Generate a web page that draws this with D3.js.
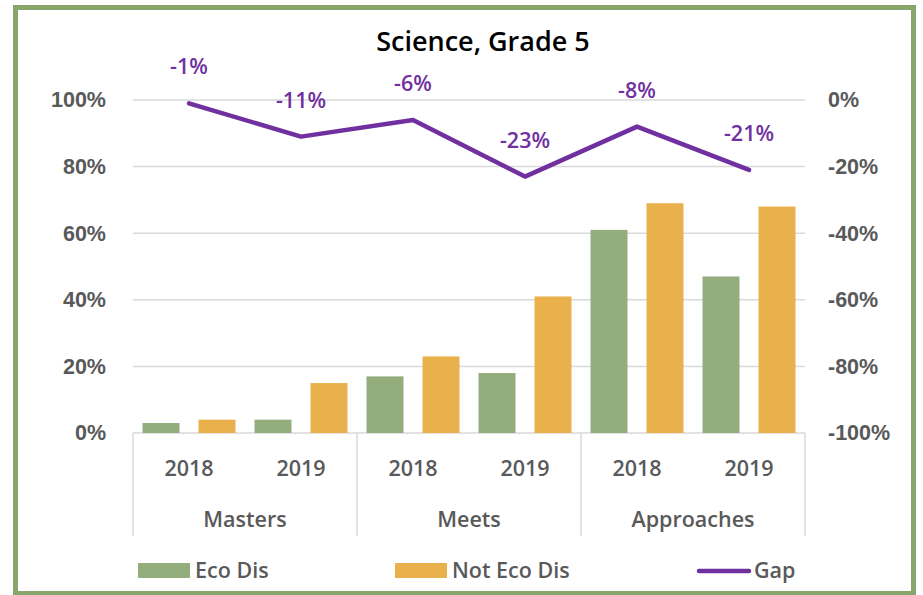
<!DOCTYPE html>
<html>
<head>
<meta charset="utf-8">
<script src="https://cdn.jsdelivr.net/npm/d3@7"></script>
<style>
  html, body { margin: 0; padding: 0; background: #fff; }
  svg { display: block; font-family: "Open Sans", "Noto Sans", sans-serif; }
</style>
</head>
<body>
<svg id="chart" width="923" height="595"></svg>
<script>
// Performance levels and years on the two-level category axis
const levels = ["Masters", "Meets", "Approaches"];
const years = ["2018", "2019"];

// Percent of students at each level, in level/year order
const ecoDis    = [3, 4, 17, 18, 61, 47];
const notEcoDis = [4, 15, 23, 41, 69, 68];
const gap       = [-1, -11, -6, -23, -8, -21];

const leftTicks  = [0, 20, 40, 60, 80, 100];
const rightTicks = [-100, -80, -60, -40, -20, 0];

const seriesNames = ["Eco Dis", "Not Eco Dis"];
const colors = { "Eco Dis": "#93ae7c", "Not Eco Dis": "#e9b04b", "Gap": "#7030a0" };

const svg = d3.select("#chart");

// Outer frame
svg.append("rect")
  .attr("x", 15.5).attr("y", 7.5).attr("width", 898).attr("height", 586)
  .attr("fill", "#fff").attr("stroke", "#88a56c").attr("stroke-width", 5);

const plot = { left: 133, right: 805, top: 100, bottom: 433 };

// Category keys: one per level/year pair
const cats = [];
levels.forEach(l => years.forEach(y => cats.push(l + "|" + y)));

const x = d3.scaleBand().domain(cats).range([plot.left, plot.right]).padding(0);
const xInner = d3.scaleBand().domain(seriesNames).range([0, x.bandwidth()])
  .paddingInner(0.34).paddingOuter(0.17);
const xLevel = d3.scaleBand().domain(levels).range([plot.left, plot.right]).padding(0);

const yLeft = d3.scaleLinear().domain([0, 100]).range([plot.bottom, plot.top]);
const yRight = d3.scaleLinear().domain([-100, 0]).range([plot.bottom, plot.top]);

// Gridlines
svg.append("g")
  .selectAll("line").data(leftTicks).join("line")
  .attr("x1", plot.left).attr("x2", plot.right)
  .attr("y1", d => yLeft(d)).attr("y2", d => yLeft(d))
  .attr("stroke", "#d9d9d9").attr("stroke-width", 1.5);

const axisText = { fill: "#595959", size: "21.5px", weight: 600 };
const styleText = sel => sel
  .attr("fill", axisText.fill).style("font-size", axisText.size).style("font-weight", axisText.weight);

// Left axis
const leftAxis = svg.append("g").attr("transform", `translate(${plot.left},0)`)
  .call(d3.axisLeft(yLeft).tickValues(leftTicks).tickFormat(d => d + "%").tickSize(0).tickPadding(27));
leftAxis.select(".domain").remove();
leftAxis.selectAll("text").call(styleText);

// Right axis
const rightAxis = svg.append("g").attr("transform", `translate(${plot.right},0)`)
  .call(d3.axisRight(yRight).tickValues(rightTicks).tickFormat(d => d + "%").tickSize(0).tickPadding(23));
rightAxis.select(".domain").remove();
rightAxis.selectAll("text").call(styleText);

// Bars
const barData = [];
cats.forEach((c, i) => {
  barData.push({ cat: c, series: "Eco Dis", value: ecoDis[i] });
  barData.push({ cat: c, series: "Not Eco Dis", value: notEcoDis[i] });
});
svg.append("g").selectAll("rect").data(barData).join("rect")
  .attr("x", d => x(d.cat) + xInner(d.series))
  .attr("width", xInner.bandwidth())
  .attr("y", d => yLeft(d.value))
  .attr("height", d => yLeft(0) - yLeft(d.value))
  .attr("fill", d => colors[d.series]);

// Category axis: separators between levels
const axisBottom = 536;
svg.append("g").selectAll("line").data([...levels.map(l => xLevel(l)), plot.right]).join("line")
  .attr("x1", d => d).attr("x2", d => d)
  .attr("y1", plot.bottom).attr("y2", axisBottom)
  .attr("stroke", "#d9d9d9").attr("stroke-width", 1.5);

// Year labels
svg.append("g").selectAll("text").data(cats).join("text")
  .attr("x", d => x(d) + x.bandwidth() / 2)
  .attr("y", 476)
  .attr("text-anchor", "middle")
  .call(styleText)
  .text(d => d.split("|")[1]);

// Level labels
svg.append("g").selectAll("text").data(levels).join("text")
  .attr("x", d => xLevel(d) + xLevel.bandwidth() / 2)
  .attr("y", 527)
  .attr("text-anchor", "middle")
  .call(styleText)
  .text(d => d);

// Gap line on the secondary axis
const gapPts = cats.map((c, i) => ({ x: x(c) + x.bandwidth() / 2, v: gap[i] }));
svg.append("path")
  .datum(gapPts)
  .attr("d", d3.line().x(d => d.x).y(d => yRight(d.v)))
  .attr("fill", "none").attr("stroke", colors.Gap).attr("stroke-width", 4.5)
  .attr("stroke-linecap", "round").attr("stroke-linejoin", "round");

// Gap value labels
svg.append("g").selectAll("text").data(gapPts).join("text")
  .attr("x", d => d.x)
  .attr("y", d => yRight(d.v) - 29)
  .attr("text-anchor", "middle")
  .attr("fill", colors.Gap).style("font-size", "21.5px").style("font-weight", 600)
  .text(d => d.v + "%");

// Title
svg.append("text")
  .attr("x", 483).attr("y", 51)
  .attr("text-anchor", "middle")
  .attr("fill", "#000").style("font-size", "27px").style("font-weight", 600)
  .text("Science, Grade 5");

// Legend
const legendY = 571;
const legendItems = [
  { name: "Eco Dis", x: 138, type: "rect" },
  { name: "Not Eco Dis", x: 395, type: "rect" },
  { name: "Gap", x: 697, type: "line" }
];
const lg = svg.append("g").selectAll("g").data(legendItems).join("g");
lg.filter(d => d.type === "rect").append("rect")
  .attr("x", d => d.x).attr("y", legendY - 8).attr("width", 52).attr("height", 15)
  .attr("fill", d => colors[d.name]);
lg.filter(d => d.type === "line").append("line")
  .attr("x1", d => d.x + 2).attr("x2", d => d.x + 52)
  .attr("y1", legendY).attr("y2", legendY)
  .attr("stroke", colors.Gap).attr("stroke-width", 4.5).attr("stroke-linecap", "round");
lg.append("text")
  .attr("x", d => d.x + 57).attr("y", legendY + 7)
  .call(styleText)
  .text(d => d.name);
</script>
</body>
</html>
